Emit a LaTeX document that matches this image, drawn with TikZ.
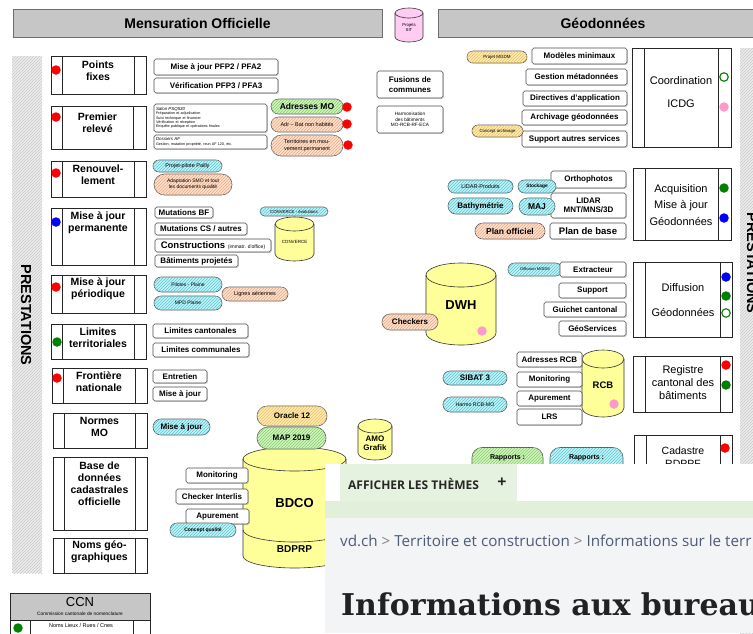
\documentclass[tikz,border=0pt]{standalone}
\usepackage{fontspec}
\setmainfont{Liberation Sans}
\newfontfamily\webfont{Open Sans}
\newfontfamily\slabfont{DejaVu Serif}
\usetikzlibrary{shapes.misc,patterns,shadows}
\newcommand\fsz[2]{\fontsize{#1}{#2}\selectfont}
\definecolor{hdr}{HTML}{C6C6C6}
\definecolor{hdrb}{HTML}{6E6E6E}
\definecolor{cyanF}{HTML}{C4F2F5}
\definecolor{cyanL}{HTML}{55C8D6}
\definecolor{greenF}{HTML}{D4F2C4}
\definecolor{greenL}{HTML}{7ED060}
\definecolor{peachF}{HTML}{FCE2D2}
\definecolor{peachL}{HTML}{EEA87C}
\definecolor{yelF}{HTML}{FDEBBA}
\definecolor{yelL}{HTML}{EEC050}
\definecolor{cylY}{HTML}{FFFF99}
\definecolor{cylP}{HTML}{FFCCF2}
\definecolor{pinkD}{HTML}{FF99CC}
\definecolor{stripeF}{HTML}{EDEDED}
\definecolor{stripeL}{HTML}{C8C8C8}
\definecolor{webbg}{HTML}{F3F4F6}
\definecolor{tabg}{HTML}{E6F2E0}
\definecolor{bandg}{HTML}{E2EFDA}
\definecolor{crumb}{HTML}{4E5B76}
\definecolor{titlec}{HTML}{222222}
\tikzset{
  rb/.style={draw=black!70, line width=0.6pt, rounded corners=1.8pt, fill=white, inner sep=0pt, align=center,
    font=\bfseries\fsz{8}{9.5}, drop shadow={shadow xshift=0.9pt, shadow yshift=-0.9pt, opacity=0.3}},
  pill/.style={rounded rectangle, draw=black!65, line width=0.6pt, inner sep=0pt, align=center},
  pc/.style={pill, fill=cyanF, postaction={pattern=north east lines, pattern color=cyanL}},
  pg/.style={pill, fill=greenF, postaction={pattern=north east lines, pattern color=greenL}},
  po/.style={pill, fill=peachF, postaction={pattern=north east lines, pattern color=peachL}},
  py/.style={pill, fill=yelF, postaction={pattern=north east lines, pattern color=yelL}},
  fnl/.style={draw=black!85, line width=0.8pt},
  fnt/.style={font=\bfseries\fsz{10.5}{12}, align=center, inner sep=0pt},
  cylt/.style={align=center, inner sep=0pt},
  dotR/.style={circle, fill=red, minimum size=9.5pt, inner sep=0pt},
  dotB/.style={circle, fill=blue, minimum size=9.5pt, inner sep=0pt},
  dotG/.style={circle, fill=green!50!black, minimum size=9.5pt, inner sep=0pt},
  dotP/.style={circle, fill=pinkD, minimum size=9.5pt, inner sep=0pt},
  dotO/.style={circle, draw=green!50!black, line width=1.1pt, fill=white, minimum size=8.5pt, inner sep=0pt},
}
\newcommand\bx[7]{\node[#6, minimum width={(#4)-(#2)}, minimum height={(#5)-(#3)}] (#1) at ({((#2)+(#4))/2},{((#3)+(#5))/2}) {#7};}
\newcommand\frm[6]{\draw[fnl] (#1,#2) rectangle (#3,#4) (#5,#2) -- (#5,#4) (#6,#2) -- (#6,#4);}
\newcommand\mdot[4]{\node[#4] (#1) at (#2,#3) {};}
% cx rx ytop ybot ry fill
\newcommand\cyl[6]{%
  \path[draw=black!80, fill=#6, line width=0.6pt] ({#1-#2},{#3+#5}) -- ({#1-#2},{#4-#5})
    arc[start angle=180,end angle=360,x radius=#2pt,y radius=#5pt] -- ({#1+#2},{#3+#5})
    arc[start angle=0,end angle=180,x radius=#2pt,y radius=#5pt] -- cycle;
  \draw[black!80, line width=0.6pt] ({#1-#2},{#3+#5}) arc[start angle=180,end angle=360,x radius=#2pt,y radius=#5pt];}
\begin{document}
\begin{tikzpicture}[x=1pt,y=-1pt]
\useasboundingbox[fill=white] (0,0) rectangle (753,633);

% headers
\node[draw=hdrb, line width=0.8pt, fill=hdr, minimum width=369pt, minimum height=28pt, font=\bfseries\fsz{14}{16}] (hmo) at (197.5,23) {Mensuration Officielle};
\draw[draw=hdrb, line width=0.8pt, fill=hdr] (438,9) -- (760,9) -- (760,37) -- (438,37) -- cycle;
\node[font=\bfseries\fsz{14}{16}] (hgeo) at (603,23) {Géodonnées};
\cyl{409}{14}{8}{42}{5}{cylP}
\node[cylt, font=\fsz{4.3}{5}] (sit) at (409,27) {Projets\\SIT};

% side strips
\fill[stripeF] (12,56) rectangle (42,573);
\fill[pattern=north east lines, pattern color=stripeL] (12,56) rectangle (42,573);
\node[rotate=-90, font=\bfseries\fsz{14.5}{16}] (prestL) at (26,315) {PRESTATIONS};
\fill[stripeF] (740,48) rectangle (753,640);
\fill[pattern=north east lines, pattern color=stripeL] (740,48) rectangle (753,640);
\node[rotate=-90, font=\bfseries\fsz{14.5}{16}] (prestR) at (752,263) {PRESTATIONS};

% left function boxes
\frm{51}{56}{146}{94}{62}{134}
\node[fnt] (pf) at (98,71) {Points\\fixes};
\mdot{d1}{56}{70}{dotR}
\frm{51}{106}{146}{149}{62}{133}
\node[fnt] (pr) at (97.5,122.5) {Premier\\relevé};
\mdot{d2}{56}{117}{dotR}
\frm{51}{161}{146}{197}{62}{134}
\node[fnt] (ren) at (98,174.5) {Renouvel-\\lement};
\mdot{d3}{56}{173}{dotR}
\frm{51}{208}{146}{265}{62}{134}
\node[fnt] (majp) at (98,223) {Mise à jour\\permanente};
\mdot{d4}{56}{222}{dotB}
\frm{51}{275}{146}{313}{62}{134}
\node[fnt] (majper) at (98,289) {Mise à jour\\périodique};
\mdot{d5}{56}{287}{dotR}
\frm{51}{324}{146}{359}{62}{134}
\node[fnt] (limt) at (98,338) {Limites\\territoriales};
\mdot{d6}{57}{342}{dotG}
\frm{52}{368}{147}{403}{63}{135}
\node[fnt] (front) at (99,382) {Frontière\\nationale};
\mdot{d7}{57}{378}{dotR}
\frm{53}{413}{147}{448}{64}{135}
\node[fnt] (nmo) at (99.5,427) {Normes\\MO};
\frm{53}{457}{147}{530}{64}{135}
\node[fnt] (bdc) at (99.5,484) {Base de\\données\\cadastrales\\officielle};
\frm{53}{538}{147}{573}{64}{135}
\node[fnt] (ngeo) at (99.5,552) {Noms géo-\\graphiques};

% CCN
\draw[fnl, fill=hdr] (10,593) rectangle (150,620);
\node[font=\fsz{13}{14}] (ccn) at (80,602) {CCN};
\node[font=\fsz{4.8}{5}] (ccnt) at (80,613.5) {Commission cantonale de nomenclature};
\draw[fnl] (10,620) rectangle (150,640) (30,620) -- (30,640) (133,620) -- (133,640);
\node[font=\fsz{5.5}{6}] (ccnr) at (81,626) {Noms Lieux / Rues / Cnes};
\mdot{d8}{18}{628}{dotG}

% middle column
\bx{pfp2}{154}{59}{278}{75}{rb}{Mise à jour PFP2 / PFA2}
\bx{pfp3}{154}{78}{278}{93}{rb}{Vérification PFP3 / PFA3}
\bx{salon}{154}{104}{267}{132}{rb, align=left, text width=109pt, font=\fsz{3.7}{4.3}}{\textit{\fsz{4.4}{5}Salon PSQ530}\\Préparation et adjudication\\Suivi technique et financier\\Vérification et réception\\Enquête publique et opérations finales}
\bx{dossier}{154}{135}{267}{149}{rb, align=left, text width=109pt, font=\fsz{3.7}{4.5}}{\textit{\fsz{4.4}{5}Dossiers AF}\\Gestion, mutation propriété, reun AF 120, etc.}
\bx{adrmo}{271}{99}{343}{114}{pg, font=\bfseries\fsz{8.5}{9}}{Adresses MO}
\bx{adrbat}{271}{117}{343}{132}{po, font=\fsz{5.5}{6}}{Adr – Bat non habités}
\bx{terr}{271}{135}{343}{156}{po, font=\fsz{5.5}{6.5}}{Territoires en mou-\\vement permanent}
\mdot{d9}{347}{107}{dotR}
\mdot{d10}{347}{124}{dotR}
\mdot{d11}{348}{145}{dotR}
\bx{pailly}{153}{160}{222}{172}{pc, font=\fsz{5.5}{6}}{Projet-pilote Pailly}
\bx{smo}{154}{174}{232}{195}{po, font=\fsz{5}{6}}{Adaptation SMO et tout\\les documents qualité}
\bx{mutbf}{155}{207}{213}{218}{rb}{Mutations BF}
\bx{mutcs}{155}{223}{247}{235}{rb}{Mutations CS / autres}
\bx{constr}{155}{239}{271}{252}{rb}{\fsz{9.5}{10}Constructions {\mdseries\fsz{5}{6}(immatr. d'office)}}
\bx{batp}{155}{255}{238}{267}{rb}{Bâtiments projetés}
\bx{convev}{260}{207}{328}{216}{pc, font=\fsz{4.3}{5}}{CONVERCE - évolutions}
\cyl{294.5}{19.5}{217}{261}{7}{cylY}
\node[cylt, font=\fsz{4.5}{5}] (converce) at (294.5,242) {CONVERCE};
\bx{pilot}{154}{277}{222}{292}{pc, font=\fsz{5}{6}}{Pilotes - Plaine}
\bx{mpd}{154}{296}{222}{310}{pc, font=\fsz{5}{6}}{MPD Plaine}
\bx{lignes}{222}{287}{288}{301}{po, font=\fsz{5.5}{6}}{Lignes aériennes}
\bx{limcant}{153}{324}{248}{338}{rb}{Limites cantonales}
\bx{limcom}{153}{343}{249}{357}{rb}{Limites communales}
\bx{entr}{153}{370}{207}{383}{rb}{Entretien}
\bx{majf}{153}{387}{207}{401}{rb}{Mise à jour}
\bx{majn}{153}{419}{210}{435}{pc, font=\bfseries\fsz{8}{9}}{Mise à jour}

% BDCO
\cyl{294.5}{51.5}{447}{568}{12}{cylY}
\node[cylt, font=\bfseries\fsz{13}{14}] (bdco) at (294.5,503) {BDCO};
\draw[black!80, line width=0.6pt] (243,530) arc[start angle=180,end angle=360,x radius=51.5pt,y radius=12pt];
\node[font=\bfseries\fsz{10}{11}] (bdprp) at (294.5,549) {BDPRP};
\bx{oracle}{257}{406}{327}{426}{py, font=\bfseries\fsz{8}{9}}{Oracle 12}
\bx{map}{257}{427}{326}{449}{pg, font=\bfseries\fsz{8}{9}}{MAP 2019}
\bx{bmon}{186}{468}{248}{483}{rb}{Monitoring}
\bx{bchk}{176}{489}{248}{504}{rb}{Checker Interlis}
\bx{bapu}{186}{509}{249}{524}{rb}{Apurement}
\bx{cq}{170}{523}{236}{537}{pc, font=\bfseries\fsz{5}{6}}{Concept qualité}
\cyl{375}{17}{419}{460}{7}{cylY}
\node[cylt, font=\bfseries\fsz{8}{9}] (amo) at (375,443) {AMO\\Grafik};

% top middle
\bx{fusions}{377}{71}{443}{98}{rb, font=\bfseries\fsz{8}{9.5}}{Fusions de\\communes}
\bx{harmo}{377}{106}{443}{133}{rb, font=\fsz{4.7}{5.3}}{Harmonisation\\des bâtiments\\MO-RCB-RF-ECA}
\bx{mgdm}{467}{51}{527}{63}{py, font=\fsz{4.5}{5}}{Projet MGDM}
\bx{modmin}{532}{48}{627}{64}{rb}{Modèles minimaux}
\bx{gestmeta}{526}{69}{627}{85}{rb}{Gestion métadonnées}
\bx{direct}{523}{91}{627}{106}{rb}{Directives d'application}
\bx{archiv}{522}{110}{627}{125}{rb}{Archivage géodonnées}
\bx{supaut}{522}{131}{627}{147}{rb}{Support autres services}
\bx{carch}{472}{125}{523}{137}{py, font=\fsz{4.3}{5}}{Concept archivage}

% right: coordination
\frm{632}{48}{731}{147}{644}{718}
\node[font=\fsz{11}{23}, align=center, inner sep=0pt] (coord) at (681,92) {Coordination\\ICDG};
\mdot{d12}{724}{77}{dotO}
\mdot{d13}{724}{107}{dotP}

% acquisition
\bx{ortho}{551}{171}{626}{188}{rb}{Orthophotos}
\bx{lidar}{551}{193}{626}{218}{rb, font=\bfseries\fsz{8}{9.5}}{LIDAR\\MNT/MNS/3D}
\bx{planb}{550}{223}{626}{239}{rb, font=\bfseries\fsz{9.5}{10}}{Plan de base}
\bx{stock}{518}{180}{556}{193}{pc, font=\bfseries\fsz{4.8}{5}}{Stockage}
\bx{majpill}{519}{198}{555}{215}{pc, font=\bfseries\fsz{8.5}{9}}{MAJ}
\bx{lidarp}{448}{180}{513}{193}{pc, font=\fsz{5.5}{6}}{LIDAR-Produits}
\bx{bathy}{448}{198}{513}{214}{pc, font=\bfseries\fsz{8}{9}}{Bathymétrie}
\bx{planoff}{475}{223}{545}{239}{po, font=\bfseries\fsz{8.5}{9}}{Plan officiel}
\frm{633}{168}{731}{240}{645}{718}
\node[font=\fsz{11}{16.5}, align=center, inner sep=0pt] (acq) at (681,205) {Acquisition\\Mise à jour\\Géodonnées};
\mdot{d14}{724}{188}{dotG}
\mdot{d15}{724}{218}{dotB}

% DWH & diffusion
\cyl{461}{35}{263}{345}{12}{cylY}
\node[cylt, font=\bfseries\fsz{13}{14}] (dwh) at (461,305) {DWH};
\mdot{d16}{482}{331}{dotP}
\bx{checkers}{382}{314}{438}{330}{po, font=\bfseries\fsz{8}{9}}{Checkers}
\bx{dmgdm}{508}{263}{562}{276}{pc, font=\fsz{4}{5}}{Diffusion MGDM}
\bx{extr}{560}{262}{626}{277}{rb}{Extracteur}
\bx{supp}{559}{283}{626}{298}{rb}{Support}
\bx{guich}{544}{302}{626}{317}{rb}{Guichet cantonal}
\bx{geos}{559}{321}{626}{336}{rb}{GéoServices}
\frm{633}{262}{732}{337}{645}{720}
\node[font=\fsz{11}{25}, align=center, inner sep=0pt] (diff) at (683,300) {Diffusion\\Géodonnées};
\mdot{d17}{726}{277}{dotB}
\mdot{d18}{726}{296}{dotG}
\mdot{d19}{726}{313}{dotO}

% RCB
\cyl{603}{21}{350}{417}{9}{cylY}
\node[cylt, font=\bfseries\fsz{9.5}{10}] (rcb) at (603,385) {RCB};
\mdot{d20}{614}{404}{dotP}
\bx{adrrcb}{517}{352}{582}{367}{rb}{Adresses RCB}
\bx{rmon}{517}{372}{582}{387}{rb}{Monitoring}
\bx{rapu}{517}{391}{582}{406}{rb}{Apurement}
\bx{lrs}{517}{409}{582}{425}{rb}{LRS}
\bx{sibat}{443}{371}{507}{385}{pc, font=\bfseries\fsz{8}{9}}{SIBAT 3}
\bx{harmorcb}{443}{397}{507}{412}{pc, font=\fsz{5.3}{6}}{Harmo RCB-MO}
\frm{633}{356}{732}{412}{645}{720}
\node[font=\fsz{11}{13}, align=center, inner sep=0pt] (reg) at (683,383) {Registre\\cantonal des\\bâtiments};
\mdot{d21}{726}{365}{dotR}
\mdot{d22}{726}{385}{dotG}

% rapports & cadastre
\node[draw=black!65, line width=0.6pt, rounded corners=10pt, fill=greenF, postaction={pattern=north east lines, pattern color=greenL}, minimum width=71pt, minimum height=45pt] (rap1) at (507.5,470) {};
\node[font=\bfseries\fsz{7}{8}] (rap1t) at (507.5,458) {Rapports :};
\node[draw=black!65, line width=0.6pt, rounded corners=10pt, fill=cyanF, postaction={pattern=north east lines, pattern color=cyanL}, minimum width=73pt, minimum height=45pt] (rap2) at (586.5,470) {};
\node[font=\bfseries\fsz{7}{8}] (rap2t) at (586.5,458) {Rapports :};
\frm{634}{435}{732}{510}{646}{720}
\node[font=\fsz{10.5}{13.5}, align=center, inner sep=0pt] (cad) at (683,457) {Cadastre\\RDPPF};
\mdot{d23}{725}{448}{dotR}

% web page overlay
\begin{scope}
\clip (325,464) rectangle (753,633);
\fill[webbg] (325,464) rectangle (753,633);
\fill[white] (325,464) rectangle (753,501);
\fill[tabg] (340,464) rectangle (517,501);
\fill[bandg] (325,501) rectangle (753,518);
\node[anchor=west, inner sep=0pt, font=\webfont\bfseries\fsz{12}{14}, text=black!85] (tab) at (348,484) {AFFICHER LES THÈMES};
\node[inner sep=0pt, font=\webfont\bfseries\fsz{16}{16}, text=black!85] (plus) at (502,483) {+};
\node[anchor=base west, inner sep=0pt, font=\webfont\fsz{15.2}{17}, text=crumb] (crumbs) at (340,546) {vd.ch {\color{black!50}>} Territoire et construction {\color{black!50}>} Informations sur le terr};
\node[anchor=base west, inner sep=0pt, font=\slabfont\bfseries\fsz{30}{32}, text=titlec] (title) at (341,615) {Informations aux bureau};
\end{scope}
\end{tikzpicture}
\end{document}
